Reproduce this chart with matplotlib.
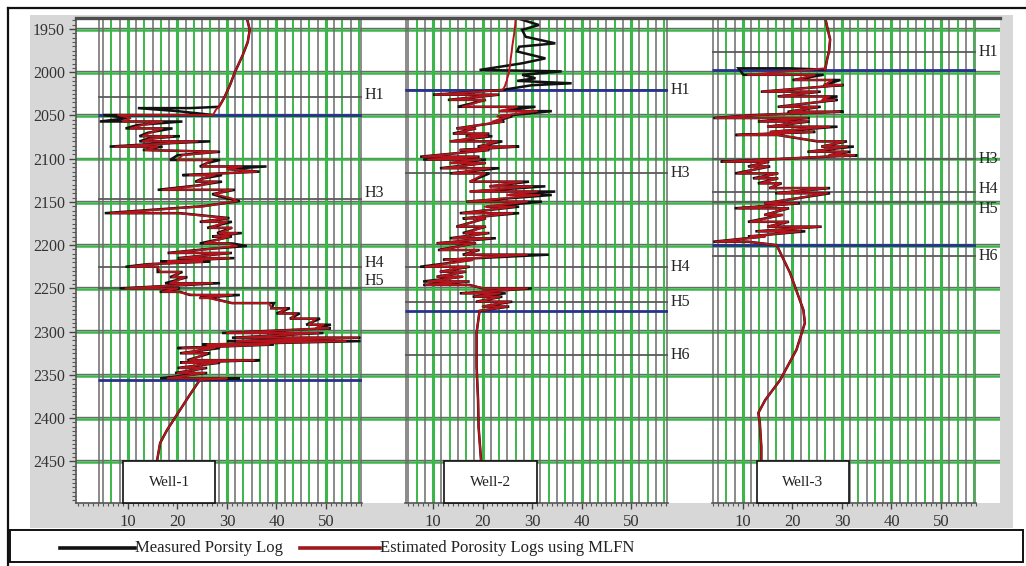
import matplotlib
matplotlib.use("Agg")
import matplotlib.pyplot as plt
from matplotlib.patches import Rectangle
from matplotlib.lines import Line2D
from matplotlib.ticker import MultipleLocator

plt.rcParams['font.family'] = ['Liberation Serif', 'DejaVu Serif']

# ---------------- porosity logs (depth in m, porosity in %) ----------------
w1_depth = [1937, 1951, 1965, 1980, 2000, 2015, 2030, 2040,
            2041.5, 2041.5, 2045, 2049.5, 2049.5, 2053, 2057, 2057, 2061, 2065,
            2065, 2070, 2074, 2074, 2077, 2080, 2080, 2083, 2086, 2086,
            2090, 2092, 2096, 2101.5, 2101.5, 2105, 2109, 2109, 2112, 2115,
            2119, 2119, 2123, 2126.6, 2126.6, 2131, 2136, 2136, 2141, 2146,
            2149, 2155, 2163, 2163, 2168.7, 2173, 2173, 2180, 2180, 2186,
            2186, 2190, 2190, 2198, 2198, 2201, 2205, 2209, 2209, 2215,
            2215, 2219, 2219, 2222, 2225, 2225, 2231, 2231, 2237, 2237,
            2244, 2244, 2250, 2250, 2254, 2254, 2257.6, 2257.6, 2261, 2261,
            2267, 2267, 2273, 2273, 2279, 2279, 2285, 2285, 2292, 2292,
            2296, 2296, 2301.6, 2301.6, 2307, 2307, 2311, 2311, 2315, 2315,
            2319, 2319, 2325, 2325, 2333, 2333, 2336, 2336, 2342, 2342,
            2347.8, 2347.8, 2354, 2354, 2356,
            2373, 2390.6, 2413.7, 2428.8, 2448.5]
w1_measured = [34.0, 34.6, 34.2, 33.2, 31.6, 30.6, 29.4, 28.4,
               22.5, 12.0, 20.0, 27.2, 5.0, 10.0, 4.3, 21.0, 12.0, 9.5,
               19.0, 14.0, 12.3, 20.5, 14.0, 12.3, 26.6, 15.0, 6.3, 17.0,
               13.0, 28.6, 20.0, 18.5, 28.6, 26.0, 24.5, 38.0, 30.0, 36.6,
               21.0, 29.0, 25.0, 23.6, 29.0, 24.0, 16.0, 31.6, 27.0, 30.0,
               32.6, 25.0, 5.3, 20.5, 30.5, 24.5, 31.0, 26.0, 31.0, 28.0,
               33.0, 27.0, 31.0, 24.5, 31.0, 34.0, 25.0, 18.0, 31.0, 20.0,
               31.5, 16.5, 26.6, 14.0, 9.5, 16.0, 16.0, 21.0, 18.5, 22.0,
               17.5, 28.6, 8.3, 20.5, 16.4, 20.5, 22.5, 32.6, 24.5, 26.6,
               31.0, 39.5, 39.0, 42.7, 40.0, 44.7, 42.7, 48.8, 46.0, 51.0,
               48.0, 51.0, 29.0, 49.5, 31.0, 57.0, 30.0, 57.0, 25.0, 39.5,
               20.0, 28.6, 20.5, 26.6, 22.0, 36.6, 20.5, 28.6, 20.0, 26.0,
               19.5, 26.0, 16.5, 32.6, 24.5,
               22.5, 20.5, 17.9, 16.5, 15.9]
w1_estimated = [34.0, 34.6, 34.2, 33.2, 31.6, 30.6, 29.4, 28.4,
                28.2, 28.0, 27.6, 27.2, 8.0, 10.5, 9.0, 17.0, 13.0, 10.5,
                17.0, 14.5, 13.0, 19.0, 14.5, 13.0, 24.0, 16.0, 7.5, 16.0,
                13.5, 28.0, 21.0, 20.0, 27.0, 26.0, 25.0, 33.0, 30.0, 36.0,
                22.5, 27.5, 25.0, 24.0, 28.0, 24.5, 17.0, 31.0, 27.5, 31.0,
                32.0, 25.5, 6.5, 20.0, 30.0, 25.0, 30.0, 26.5, 31.0, 28.5,
                32.0, 27.5, 30.5, 25.5, 30.0, 32.0, 25.5, 18.5, 30.5, 20.5,
                30.5, 18.0, 25.0, 14.5, 10.5, 16.0, 16.5, 20.5, 19.0, 21.5,
                18.5, 27.0, 9.5, 20.0, 17.0, 20.0, 23.0, 31.0, 24.5, 26.0,
                31.0, 38.5, 39.0, 42.0, 40.5, 44.0, 43.0, 48.0, 46.5, 49.5,
                48.0, 50.5, 30.0, 48.5, 32.0, 56.5, 32.0, 54.0, 26.0, 38.5,
                21.0, 27.5, 21.0, 26.0, 22.5, 35.5, 21.0, 28.0, 20.5, 25.5,
                20.0, 25.5, 18.0, 30.0, 24.5,
                22.5, 20.5, 17.9, 16.5, 15.9]

w2_depth = [1937, 1945.4, 1951, 1959, 1966.6, 1970.5, 1976, 1984, 1989.7,
            1997.4, 1999, 2003, 2007, 2010, 2012.8, 2015, 2018.6, 2020.5,
            2026, 2026, 2032, 2032, 2040, 2040, 2045, 2045, 2051, 2051,
            2057, 2057, 2065, 2065, 2071, 2071, 2074, 2074, 2080, 2080,
            2086, 2086, 2090, 2090, 2097.7, 2097.7, 2101, 2101, 2105, 2105,
            2111, 2111, 2117, 2117, 2126.6, 2126.6, 2132, 2132, 2138, 2138,
            2142, 2142, 2149.7, 2149.7, 2155.5, 2155.5, 2163, 2163, 2169, 2169,
            2178.6, 2178.6, 2186, 2186, 2192, 2192, 2197.8, 2197.8, 2205.6, 2205.6,
            2211, 2211, 2217, 2217, 2225, 2225, 2230.7, 2230.7, 2236.5, 2236.5,
            2242, 2242, 2246, 2246, 2250, 2250, 2255.7, 2255.7, 2259.6, 2259.6,
            2265.4, 2265.4, 2271, 2271, 2276,
            2301.6, 2340, 2379, 2410, 2448.5]
w2_measured = [26.7, 31.4, 28.0, 28.7, 34.7, 27.4, 27.0, 32.7, 28.0,
               19.4, 36.0, 28.0, 30.7, 27.0, 38.0, 30.0, 26.1, 24.0,
               10.0, 23.4, 13.0, 20.7, 15.0, 30.7, 23.4, 34.0, 23.4, 26.0,
               22.5, 24.4, 14.7, 18.7, 14.0, 21.4, 16.7, 22.0, 13.4, 24.0,
               19.0, 27.4, 15.4, 21.4, 7.4, 19.4, 8.0, 20.7, 13.4, 20.7,
               11.4, 23.4, 13.4, 21.4, 17.4, 29.4, 21.4, 32.7, 17.4, 34.7,
               25.4, 34.0, 16.7, 32.0, 20.7, 27.4, 15.4, 27.4, 16.0, 20.7,
               14.7, 20.7, 16.0, 21.4, 13.4, 22.7, 10.7, 18.7, 11.0, 19.4,
               16.0, 33.4, 12.0, 18.0, 7.4, 17.4, 11.4, 16.7, 10.7, 16.0,
               8.0, 17.4, 8.0, 17.4, 20.0, 30.0, 15.4, 24.7, 18.0, 24.0,
               18.7, 26.0, 20.0, 25.4, 19.4,
               18.8, 18.8, 19.1, 19.2, 19.7]
w2_estimated = [26.7, 26.6, 26.5, 26.3, 26.1, 26.0, 25.9, 25.7, 25.6,
                25.4, 25.4, 25.2, 25.0, 24.9, 24.7, 24.6, 24.3, 24.0,
                10.5, 23.0, 13.5, 20.5, 16.0, 27.0, 23.4, 31.0, 23.0, 25.5,
                22.0, 24.0, 15.0, 18.5, 14.5, 21.0, 17.0, 21.0, 13.5, 23.0,
                19.5, 26.5, 15.5, 21.0, 8.0, 19.0, 9.0, 19.5, 13.5, 20.5,
                12.0, 21.5, 14.0, 20.5, 17.5, 28.0, 21.5, 30.0, 17.5, 31.0,
                25.0, 31.5, 17.0, 29.0, 20.5, 26.5, 16.0, 26.0, 16.5, 20.5,
                15.0, 20.5, 16.5, 21.0, 14.0, 21.5, 11.0, 18.5, 11.5, 19.0,
                16.5, 29.0, 12.5, 18.0, 8.5, 17.0, 11.5, 16.5, 11.0, 16.0,
                9.0, 17.0, 8.5, 17.0, 20.5, 29.0, 16.0, 23.5, 18.5, 23.5,
                19.0, 25.5, 20.0, 25.0, 19.4,
                18.8, 18.8, 19.1, 19.2, 19.7]

w3_depth = [1937, 1950, 1962, 1975, 1985, 1997,
            1995.5, 1995.5, 2003, 2003, 2009, 2009, 2014.8, 2014.8, 2022.5, 2022.5,
            2028, 2028, 2032, 2032, 2040, 2040, 2045.7, 2045.7, 2049.6, 2053,
            2053, 2057, 2057, 2063, 2063, 2069, 2069, 2072.6, 2072.6, 2080,
            2080, 2086, 2086, 2092, 2092, 2096, 2096, 2103.5, 2103.5, 2109,
            2109, 2117, 2117, 2122.7, 2122.7, 2128.5, 2128.5, 2134, 2134, 2140,
            2140, 2151.6, 2151.6, 2157.4, 2157.4, 2165, 2165, 2173, 2173, 2178.6,
            2178.6, 2184, 2184, 2190, 2190, 2196, 2196, 2200,
            2232, 2275, 2290, 2321, 2356, 2379, 2394, 2405.6, 2433, 2448.5]
w3_measured = [26.6, 27.1, 27.6, 27.4, 27.0, 26.6,
               19.4, 9.1, 10.1, 26.3, 20.0, 29.7, 26.3, 30.3, 13.6, 25.7,
               17.0, 29.1, 26.0, 29.1, 17.0, 25.7, 19.0, 30.3, 12.0, 4.0,
               23.5, 13.0, 23.5, 14.9, 29.1, 15.5, 24.6, 8.5, 17.0, 25.0,
               31.0, 25.8, 32.4, 23.0, 31.7, 27.3, 33.1, 5.5, 15.3, 11.0,
               15.5, 8.4, 17.1, 12.0, 17.1, 13.0, 17.8, 15.3, 27.6, 16.5,
               27.6, 14.3, 21.5, 8.3, 19.3, 14.3, 18.0, 11.0, 19.3, 14.9,
               25.9, 12.5, 22.6, 11.0, 14.3, 4.0, 11.0, 16.8,
               19.5, 22.2, 22.5, 20.8, 17.5, 14.5, 13.1, 13.4, 13.7, 13.7]
w3_estimated = [26.6, 27.1, 27.6, 27.4, 27.0, 26.6,
                26.6, 26.6, 11.0, 24.5, 20.5, 28.0, 26.5, 30.0, 14.0, 25.0,
                17.5, 27.5, 26.0, 28.5, 17.5, 25.0, 19.5, 29.5, 12.5, 4.5,
                23.0, 13.5, 23.0, 15.0, 27.5, 15.5, 24.0, 9.0, 17.0, 25.5,
                30.5, 26.0, 31.0, 23.5, 31.0, 27.5, 32.5, 6.0, 15.0, 11.5,
                15.0, 9.0, 17.0, 12.5, 17.0, 13.5, 17.5, 15.5, 27.0, 17.0,
                27.0, 14.5, 21.0, 9.0, 19.0, 14.5, 18.0, 11.5, 19.0, 15.0,
                25.5, 13.0, 21.5, 11.5, 14.5, 4.5, 11.0, 16.8,
                19.5, 22.2, 22.5, 20.8, 17.5, 14.5, 13.1, 13.4, 13.7, 13.7]

# horizon tops and interval boundaries (m)
w1_horizons = ['H1', 'H3', 'H4', 'H5']
w1_horizon_depths = [2029, 2147, 2225, 2250]
w1_zone = [2050, 2356]
w2_horizons = ['H1', 'H3', 'H4', 'H5', 'H6']
w2_horizon_depths = [2020.5, 2116.5, 2225, 2265.7, 2327]
w2_zone = [2020.5, 2276]
w3_horizons = ['H1', 'H3', 'H4', 'H5', 'H6']
w3_horizon_depths = [1976.6, 2100, 2138, 2150, 2212.5]
w3_zone = [1997, 2200]

well_names = ['Well-1', 'Well-2', 'Well-3']
x_ticks = [10, 20, 30, 40, 50]
depth_ticks = [1950, 2000, 2050, 2100, 2150, 2200, 2250, 2300, 2350, 2400, 2450]
legend_labels = ['Measured Porsity Log', 'Estimated Porosity Logs using MLFN']

# ---------------- styling / layout ----------------
W, H = 1026, 566
DEPTH_TOP, DEPTH_BOTTOM = 1937.3, 2498.2
GREEN = '#3cb54a'
GRID_GRAY = '#6b6b6b'
MEAS_COLOR = '#111111'
EST_COLOR = '#b5141c'
ZONE_COLOR = '#28318c'
HORIZON_COLOR = '#5a5a5a'

fig = plt.figure(figsize=(W / 100, H / 100), dpi=100)
fig.patch.set_facecolor('white')


def box(x0, y0, x1, y1):
    """Pixel box (origin top-left) -> figure-fraction rect."""
    return [x0 / W, 1 - y1 / H, (x1 - x0) / W, (y1 - y0) / H]


def fx(x):
    return x / W


def fy(y):
    return 1 - y / H


# light gray frame around the plotting area
fig.patches.append(Rectangle((fx(30), fy(528)), (1013 - 30) / W, (528 - 15) / H,
                             transform=fig.transFigure, facecolor='#d7d7d7',
                             edgecolor='none', zorder=-2))

# backdrop: depth axis and horizontal grid spanning all tracks
bg = fig.add_axes(box(76, 18, 1000, 503))
bg.set_facecolor('white')
bg.set_xlim(0, 1)
bg.set_ylim(DEPTH_BOTTOM, DEPTH_TOP)
for s in ['top', 'right', 'bottom']:
    bg.spines[s].set_visible(False)
bg.spines['left'].set_color('#555555')
bg.spines['left'].set_linewidth(1.2)
bg.set_xticks([])
bg.set_yticks(depth_ticks)
bg.yaxis.set_minor_locator(MultipleLocator(5))
bg.tick_params(axis='y', which='major', length=5, width=1.0, color='#444444',
               labelsize=11.5, labelcolor='#333333', pad=3)
bg.tick_params(axis='y', which='minor', length=3, width=0.8, color='#555555')
for d in depth_ticks:
    bg.axhline(d - 1.3, color=GRID_GRAY, lw=1.0, zorder=1)
    bg.axhline(d + 0.8, color=GREEN, lw=1.8, zorder=1)

# per-track layout: pixel extent, porosity limits, label box, label offsets (px)
tracks = [
    dict(px=(76, 362), xlim=(-0.5, 57.28), line_start=4.0, box=(9.0, 27.6),
         depth=w1_depth, meas=w1_measured, est=w1_estimated,
         horizons=w1_horizons, hdepths=w1_horizon_depths, zone=w1_zone,
         label_dy=[2, 6, 4, 7]),
    dict(px=(405, 668), xlim=(4.34, 57.47), line_start=4.34, box=(12.2, 31.0),
         depth=w2_depth, meas=w2_measured, est=w2_estimated,
         horizons=w2_horizons, hdepths=w2_horizon_depths, zone=w2_zone,
         label_dy=[0, 0, 0, 0, 0]),
    dict(px=(712, 976), xlim=(3.74, 57.07), line_start=3.74, box=(12.8, 31.4),
         depth=w3_depth, meas=w3_measured, est=w3_estimated,
         horizons=w3_horizons, hdepths=w3_horizon_depths, zone=w3_zone,
         label_dy=[0, 0, 3, -7, 0]),
]

for name, tr in zip(well_names, tracks):
    ax = fig.add_axes(box(tr['px'][0], 18, tr['px'][1], 503))
    ax.set_facecolor('none')
    ax.set_xlim(*tr['xlim'])
    ax.set_ylim(DEPTH_BOTTOM, DEPTH_TOP)
    for s in ['top', 'right', 'left']:
        ax.spines[s].set_visible(False)
    ax.spines['bottom'].set_color('#555555')
    ax.spines['bottom'].set_linewidth(1.2)
    ax.set_yticks([])
    ax.set_xticks(x_ticks)
    ax.xaxis.set_minor_locator(MultipleLocator(1))
    ax.tick_params(axis='x', which='major', length=4, width=1.0, color='#444444',
                   labelsize=12, labelcolor='#333333', pad=4)
    ax.tick_params(axis='x', which='minor', length=2.5, width=0.8, color='#555555')

    # vertical grid
    x0, x1 = tr['xlim']
    ax.axvline(tr['line_start'] + 0.15, color=GRID_GRAY, lw=1.1, zorder=1)
    ax.axvline(x1 - 0.3, color=GRID_GRAY, lw=1.1, zorder=1)
    for k in range(3, 35):
        v = k * 5 / 3
        if k % 6 == 0:
            ax.axvline(v, color=GREEN, lw=2.2, zorder=1)
        elif k % 2 == 0:
            ax.axvline(v, color=GREEN, lw=1.4, zorder=1)
        else:
            ax.axvline(v, color=GRID_GRAY, lw=1.1, zorder=1)

    # horizons and interval boundaries
    for h, d, dy in zip(tr['horizons'], tr['hdepths'], tr['label_dy']):
        ax.hlines(d, tr['line_start'], x1, color=HORIZON_COLOR, lw=1.3, zorder=2)
        ax.annotate(h, xy=(1, d), xycoords=('axes fraction', 'data'),
                    xytext=(3, dy), textcoords='offset pixels',
                    ha='left', va='center', fontsize=11.5, color='#222222',
                    annotation_clip=False)
    for d in tr['zone']:
        ax.hlines(d, tr['line_start'], x1, color=ZONE_COLOR, lw=2.0, zorder=3)

    # logs
    ax.plot(tr['meas'], tr['depth'], color=MEAS_COLOR, lw=1.8, zorder=4,
            solid_joinstyle='miter')
    ax.plot(tr['est'], tr['depth'], color=EST_COLOR, lw=1.4, zorder=5)

    # well name box
    b0, b1 = tr['box']
    ax.add_patch(Rectangle((b0, 2450), b1 - b0, DEPTH_BOTTOM - 2450,
                           facecolor='white', edgecolor='#111111', lw=1.2,
                           zorder=6, clip_on=False))
    ax.text((b0 + b1) / 2, 2475, name, ha='center', va='center', fontsize=11,
            color='#222222', zorder=7)

# dark rule along the top of the tracks
fig.lines.append(Line2D([fx(76), fx(1000)], [fy(18), fy(18)], transform=fig.transFigure,
                        color='#4d4d4d', lw=2.4, zorder=3))

# outer frame (left and top edges)
fig.lines.append(Line2D([fx(8), fx(8)], [fy(8), fy(566)], transform=fig.transFigure,
                        color='#111111', lw=1.6, zorder=5))
fig.lines.append(Line2D([fx(8), fx(1026)], [fy(8), fy(8)], transform=fig.transFigure,
                        color='#111111', lw=1.6, zorder=5))

# legend
fig.patches.append(Rectangle((fx(10), fy(562)), (1023 - 10) / W, (562 - 530) / H,
                             transform=fig.transFigure, facecolor='white',
                             edgecolor='#111111', lw=1.4, zorder=2))
fig.lines.append(Line2D([fx(60), fx(135)], [fy(548), fy(548)], transform=fig.transFigure,
                        color=MEAS_COLOR, lw=2.6, zorder=3))
fig.text(fx(135), fy(548), legend_labels[0], ha='left', va='center', fontsize=12,
         color='#222222', zorder=3)
fig.lines.append(Line2D([fx(300), fx(380)], [fy(548), fy(548)], transform=fig.transFigure,
                        color='#9e1a1f', lw=2.6, zorder=3))
fig.text(fx(380), fy(548), legend_labels[1], ha='left', va='center', fontsize=12,
         color='#222222', zorder=3)

fig.savefig('out.png', dpi=100, facecolor='white')
